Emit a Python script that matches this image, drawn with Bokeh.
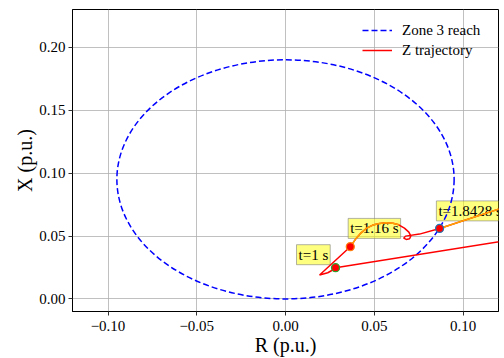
import math
from bokeh.plotting import figure
from bokeh.models import (Label, Legend, LegendItem, FixedTicker, CustomJSTickFormatter, Range1d)
from bokeh.embed import file_html
from bokeh.resources import INLINE

# ---- data ----
zone3_center_R = 0.0
zone3_center_X = 0.095
zone3_diameter = 0.19

traj_R = [0.1375, 0.0282, 0.0266, 0.0238, 0.0192, 0.0365, 0.0398, 0.0426, 0.0455,
          0.0492, 0.0530, 0.0567, 0.0605, 0.0638, 0.0670, 0.0695, 0.0706, 0.0699,
          0.0680, 0.0666, 0.0676, 0.0755, 0.0868, 0.1149, 0.1375]
traj_X = [0.0492, 0.0248, 0.0230, 0.0208, 0.0190, 0.0415, 0.0481, 0.0525, 0.0560,
          0.0587, 0.0600, 0.0605, 0.0602, 0.0589, 0.0563, 0.0531, 0.0499, 0.0478,
          0.0473, 0.0483, 0.0499, 0.0515, 0.0560, 0.0690, 0.0792]
# highlighted (orange) portions of the trajectory, as index ranges
orange_spans = [(5, 14), (22, 25)]

event_labels = ["t=1 s", "t=1.16 s", "t=1.8428 s"]
event_R = [0.0282, 0.0365, 0.0868]
event_X = [0.0248, 0.0415, 0.0560]
event_edge = ["#2ca02c", "#ff7f0e", "#1f77b4"]
label_R = [0.0062, 0.0353, 0.0850]
label_X = [0.0272, 0.0481, 0.0620]

x_ticks = [-0.10, -0.05, 0.00, 0.05, 0.10]
y_ticks = [0.00, 0.05, 0.10, 0.15, 0.20]
x_lim = (-0.12, 0.12)
y_lim = (-0.01, 0.23)

FONT = "Liberation Serif"

p = figure(width=504, height=358, output_backend="svg", toolbar_location=None,
           x_range=Range1d(*x_lim), y_range=Range1d(*y_lim),
           min_border_left=72, min_border_right=6, min_border_top=9, min_border_bottom=46)
p.background_fill_color = "white"
p.border_fill_color = "white"
p.outline_line_color = "black"
p.outline_line_width = 1

# grid
p.xgrid.ticker = FixedTicker(ticks=x_ticks)
p.ygrid.ticker = FixedTicker(ticks=y_ticks)
for g in (p.xgrid, p.ygrid):
    g.grid_line_color = "#b0b0b0"
    g.grid_line_width = 0.8

fmt = CustomJSTickFormatter(code="return (tick < -1e-9 ? '\u2212' : '') + Math.abs(tick).toFixed(2);")
for ax, ticks, lab in ((p.xaxis[0], x_ticks, "R (p.u.)"), (p.yaxis[0], y_ticks, "X (p.u.)")):
    ax.ticker = FixedTicker(ticks=ticks)
    ax.formatter = fmt
    ax.axis_label = lab
    ax.axis_label_text_font = FONT
    ax.axis_label_text_font_size = "20px"
    ax.axis_label_text_font_style = "normal"
    ax.axis_label_text_color = "black"
    ax.major_label_text_font = FONT
    ax.major_label_text_font_size = "15px"
    ax.major_label_text_color = "black"
    ax.major_tick_out = 4
    ax.major_tick_in = 0
    ax.minor_tick_out = 0
    ax.minor_tick_in = 0
    ax.major_tick_line_color = "#333333"
    ax.axis_line_color = "black"
p.xaxis[0].major_label_standoff = 5
p.xaxis[0].axis_label_standoff = 0
p.yaxis[0].major_label_standoff = 3
p.yaxis[0].axis_label_standoff = 0

# labels (drawn beneath the lines)
for txt, lx, ly in zip(event_labels, label_R, label_X):
    p.add_layout(Label(x=lx, y=ly, text=txt, text_font=FONT, text_font_size="15px",
                       text_color="black", text_align="left", text_baseline="bottom",
                       background_fill_color="yellow", background_fill_alpha=0.5,
                       border_line_color="gray", border_line_alpha=0.6, border_line_width=1,
                       padding=2, level="underlay"))

# zone 3 circle
p.ellipse(x=[zone3_center_R], y=[zone3_center_X], width=[zone3_diameter], height=[zone3_diameter],
          fill_alpha=0, line_color="blue", line_width=1.5, line_dash="6 3")
legend_circle = p.line(x=[math.nan], y=[math.nan], line_color="blue", line_width=1.5, line_dash="6 3")

# trajectory
traj = p.line(x=traj_R, y=traj_X, line_color="red", line_width=1.5)
for a, b in orange_spans:
    p.line(x=traj_R[a:b], y=traj_X[a:b], line_color="orange", line_width=1.5)

# event markers
p.scatter(x=event_R, y=event_X, size=8, fill_color="red", line_color=event_edge, line_width=1.3)

legend = Legend(items=[LegendItem(label="Zone 3 reach", renderers=[legend_circle]),
                       LegendItem(label="Z trajectory", renderers=[traj])],
                location=(290, 251))
legend.background_fill_alpha = 0
legend.border_line_alpha = 0
legend.label_text_font = FONT
legend.label_text_font_size = "15px"
legend.label_text_color = "black"
legend.glyph_width = 30
legend.glyph_height = 20
legend.label_height = 20
legend.label_standoff = 10
legend.spacing = 0
legend.padding = 0
legend.margin = 0
p.add_layout(legend)

open("out.html", "w").write(file_html(p, INLINE))
